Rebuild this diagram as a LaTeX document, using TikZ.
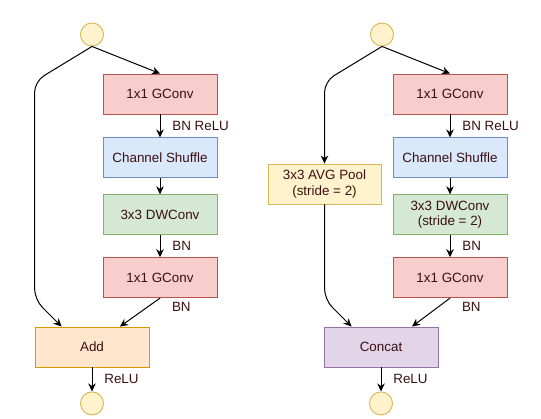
\documentclass[tikz,border=0pt]{standalone}
\usepackage{fontspec}
\setmainfont{Liberation Sans}
\usetikzlibrary{
    arrows.meta,
    positioning,
    calc
}
\definecolor{txt}{HTML}{3A1010}
\definecolor{redfill}{HTML}{F8CECC}\definecolor{redline}{HTML}{B85450}
\definecolor{bluefill}{HTML}{DAE8FC}\definecolor{blueline}{HTML}{6C8EBF}
\definecolor{greenfill}{HTML}{D5E8D4}\definecolor{greenline}{HTML}{82B366}
\definecolor{orangefill}{HTML}{FFE6CC}\definecolor{orangeline}{HTML}{D79B00}
\definecolor{yellowfill}{HTML}{FFF2CC}\definecolor{yellowline}{HTML}{D6B656}
\definecolor{purplefill}{HTML}{E1D5E7}\definecolor{purpleline}{HTML}{9673A6}

\begin{document}
\begin{tikzpicture}[
        x=1pt, y=1pt,
        every node/.style={font=\fontsize{13.4}{15.7}\selectfont, text=txt},
        block/.style={
            rectangle,
            line width=0.9pt,
            minimum width=114pt,
            minimum height=40pt,
            align=center,
            inner sep=0pt
        },
        gconv/.style={block, draw=redline, fill=redfill},
        shuffle/.style={block, draw=blueline, fill=bluefill},
        dwconv/.style={block, draw=greenline, fill=greenfill},
        addbox/.style={block, draw=orangeline, fill=orangefill},
        poolbox/.style={block, draw=yellowline, fill=yellowfill, minimum width=113pt},
        catbox/.style={block, draw=purpleline, fill=purplefill},
        port/.style={circle, draw=yellowline, fill=yellowfill, line width=0.9pt,
            minimum size=23pt, inner sep=0pt},
        flow/.style={-{Stealth[length=8pt,width=7.5pt,inset=2.5pt]}, line width=1pt, draw=black},
        lbl/.style={right=8.5pt, midway}
    ]
        \useasboundingbox (0,0) rectangle (541,-419);

        % left unit
        \node[port] (in1) at (92,-34.5) {};
        \node[gconv] (gconv1) at (160,-94) {1x1 GConv};
        \node[shuffle, below=23pt of gconv1] (shuffle1) {Channel Shuffle};
        \node[dwconv, below=16pt of shuffle1] (dw1) {3x3 DWConv};
        \node[gconv, below=22pt of dw1] (gconv2) {1x1 GConv};
        \node[addbox] (add) at (92,-347) {Add};
        \node[port, below=24pt of add] (out1) {};

        \draw[flow] (in1.south) -- (gconv1.north);
        \draw[flow] (gconv1) -- node[lbl] {BN ReLU} (shuffle1);
        \draw[flow] (shuffle1) -- (dw1);
        \draw[flow] (dw1) -- node[lbl] {BN} (gconv2);
        \draw[flow] (gconv2.south) -- ([xshift=-40pt]gconv2.south |- add.north);
        \node[anchor=west] at ([xshift=8.5pt,yshift=-9pt]gconv2.south) {BN};
        \draw[flow, rounded corners=11pt] (in1.south)
            -- ([yshift=-35pt]in1.south -| add.west)
            -- ([yshift=27pt]add.north west)
            -- ([xshift=27pt]add.north west);
        \draw[flow] (add) -- node[lbl] {ReLU} (out1);

        % right unit
        \node[port] (in2) at (382,-34.5) {};
        \node[gconv] (gconv3) at (450,-94) {1x1 GConv};
        \node[shuffle, below=23pt of gconv3] (shuffle2) {Channel Shuffle};
        \node[dwconv, below=16pt of shuffle2] (dw2) {3x3 DWConv\\(stride = 2)};
        \node[gconv, below=22pt of dw2] (gconv4) {1x1 GConv};
        \node[poolbox] (pool) at (324.5,-184) {3x3 AVG Pool\\(stride = 2)};
        \node[catbox] (concat) at (381,-347) {Concat};
        \node[port, below=24pt of concat] (out2) {};

        \draw[flow] (in2.south) -- (gconv3.north);
        \draw[flow] (gconv3) -- node[lbl] {BN ReLU} (shuffle2);
        \draw[flow] (shuffle2) -- (dw2);
        \draw[flow] (dw2) -- node[lbl] {BN} (gconv4);
        \draw[flow] (gconv4.south) -- ([xshift=-38pt]gconv4.south |- concat.north);
        \node[anchor=west] at ([xshift=8.5pt,yshift=-9pt]gconv4.south) {BN};
        \draw[flow, rounded corners=11pt] (in2.south)
            -- ([yshift=-35pt]in2.south -| pool.north)
            -- (pool.north);
        \draw[flow, rounded corners=11pt] (pool.south)
            -- ([yshift=27pt]pool.south |- concat.north)
            -- ([xshift=28pt]concat.north west);
        \draw[flow] (concat) -- node[lbl] {ReLU} (out2);
    \end{tikzpicture}
\end{document}
